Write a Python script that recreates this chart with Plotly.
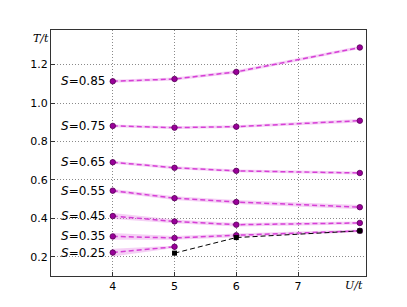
import plotly.graph_objects as go

U = [4, 5, 6, 8]
labels = ["0.85", "0.75", "0.65", "0.55", "0.45", "0.35", "0.25"]
T085 = [1.113, 1.125, 1.162, 1.289]
T075 = [0.881, 0.872, 0.877, 0.908]
T065 = [0.692, 0.663, 0.647, 0.636]
T055 = [0.544, 0.505, 0.485, 0.458]
T045 = [0.412, 0.384, 0.367, 0.376]
T035 = [0.306, 0.298, 0.312, 0.335]
U025 = [4, 5]
T025 = [0.222, 0.252]
err085 = [0.008, 0.008, 0.008, 0.008]
err075 = [0.007, 0.007, 0.007, 0.009]
err065 = [0.008, 0.008, 0.007, 0.008]
err055 = [0.009, 0.010, 0.010, 0.011]
err045 = [0.016, 0.010, 0.009, 0.008]
err035 = [0.018, 0.010, 0.009, 0.007]
err025 = [0.020, 0.006]
U_ref = [5, 6, 8]
T_ref = [0.219, 0.300, 0.335]

series = [
    (U, T085, err085, labels[0]),
    (U, T075, err075, labels[1]),
    (U, T065, err065, labels[2]),
    (U, T055, err055, labels[3]),
    (U, T045, err045, labels[4]),
    (U, T035, err035, labels[5]),
    (U025, T025, err025, labels[6]),
]

fig = go.Figure()
for xs, ys, es, lab in series:
    upper = [y + e for y, e in zip(ys, es)]
    lower = [y - e for y, e in zip(ys, es)]
    fig.add_trace(go.Scatter(x=xs + xs[::-1], y=upper + lower[::-1], fill="toself",
                             fillcolor="rgba(225,120,225,0.35)", line=dict(width=0),
                             mode="lines", hoverinfo="skip", showlegend=False))
    fig.add_trace(go.Scatter(x=xs, y=ys, mode="lines+markers",
                             line=dict(color="#d63fd6", width=1.5, dash="5px,3px"),
                             marker=dict(symbol="circle", size=5.5, color="#990099",
                                         line=dict(color="#550055", width=0.8)),
                             showlegend=False))
    fig.add_annotation(x=xs[0], y=ys[0], text="<i>S</i>=" + lab, showarrow=False,
                       xanchor="right", yanchor="middle", xshift=-6,
                       font=dict(family="DejaVu Sans", size=12, color="black"))

fig.add_trace(go.Scatter(x=U_ref, y=T_ref, mode="lines+markers",
                         line=dict(color="black", width=1, dash="5px,3px"),
                         marker=dict(symbol="square", size=5, color="black"),
                         showlegend=False))

fig.add_annotation(xref="paper", yref="y", x=0, y=1.335, text="<i>T/t</i>", showarrow=False,
                   xanchor="right", yanchor="middle", xshift=0,
                   font=dict(family="DejaVu Serif", size=11, color="black"))
fig.add_annotation(xref="x", yref="paper", x=7.9, y=0, text="<i>U/t</i>", showarrow=False,
                   xanchor="center", yanchor="top", yshift=-1,
                   font=dict(family="DejaVu Serif", size=11, color="black"))

axis_common = dict(showgrid=True, gridcolor="#8a8a8a", griddash="1px,2px", gridwidth=1,
                   showline=True, linecolor="#333333", linewidth=1.2, mirror=True,
                   ticks="inside", ticklen=4, tickcolor="#333333", zeroline=False,
                   tickfont=dict(family="DejaVu Sans", size=11, color="black"))
fig.update_xaxes(range=[3.0, 8.1], tickvals=[4, 5, 6, 7], **axis_common)
fig.update_yaxes(range=[0.1, 1.38], tickvals=[0.2, 0.4, 0.6, 0.8, 1.0, 1.2],
                 ticktext=["0.2", "0.4", "0.6", "0.8", "1.0", "1.2"], **axis_common)
fig.update_layout(width=399, height=299, margin=dict(l=43, r=41, t=22, b=31),
                  plot_bgcolor="white", paper_bgcolor="white")
fig.write_html("out.html")
